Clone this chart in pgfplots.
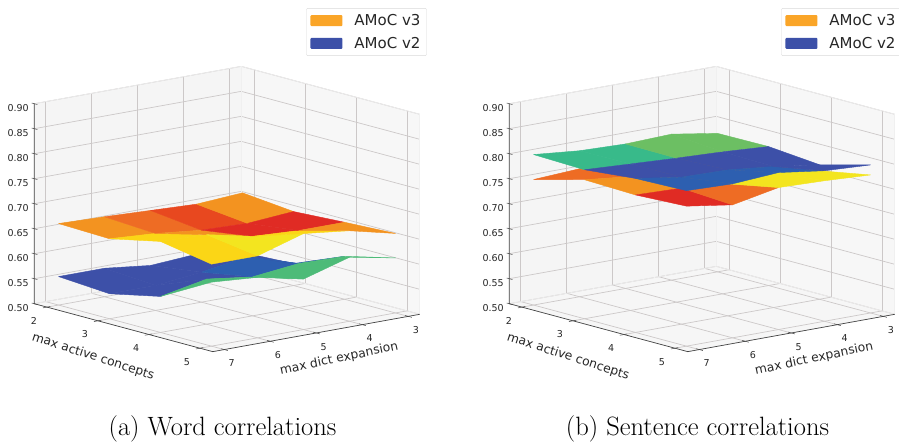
\documentclass[border=0pt]{standalone}
\usepackage{fontspec}
\setsansfont{DejaVu Sans}
\usepackage{pgfplots}
\pgfplotsset{compat=1.18}
\definecolor{gridc}{HTML}{CCC8C8}
\definecolor{axc}{HTML}{444444}
\pgfplotsset{
  amoc/.style={
    x={(51pt,-13.7pt)}, y={(46pt,8.3pt)}, z={(0pt,500pt)},
    y dir=reverse,
    xmin=1.75, xmax=5.25, ymin=2.75, ymax=7.25, zmin=0.5, zmax=0.9,
    xtick={2,3,4,5}, ytick={3,4,5,6,7},
    ztick={0.5,0.55,0.6,0.65,0.7,0.75,0.8,0.85,0.9},
    xtick pos=lower, ytick pos=lower, ztick pos=left,
    tick align=center,
    grid=major, grid style={gridc, line width=0.7pt},
    axis line style={black!6, line width=0.6pt},
    tick style={draw=none},
    major tick length=4pt,
    set layers, clip=false,
    anchor=center,
    tick label style={font=\sffamily\fontsize{9.5}{11}\selectfont, text=black!85},
    xticklabel style={xshift=-5pt, yshift=-6pt},
    yticklabel style={yshift=-6pt},
    zticklabel style={yshift=-4.5pt, /pgf/number format/fixed, /pgf/number format/fixed zerofill, /pgf/number format/precision=2},
    /pgf/number format/assume math mode=true,
    xlabel={max active concepts}, ylabel={max dict expansion},
    every axis x label/.style={at={(axis cs:3.5,7.25,0.5)}, anchor=center, rotate=-18, xshift=-20pt, yshift=-37pt, font=\sffamily\fontsize{12.3}{14}\selectfont, text=black!85},
    every axis y label/.style={at={(axis cs:5.25,5,0.5)}, anchor=center, rotate=12, xshift=17pt, yshift=-30pt, font=\sffamily\fontsize{12.3}{14}\selectfont, text=black!85},
    colormap={facets}{rgb255=(243,147,32) rgb255=(238,108,36) rgb255=(232,72,31) rgb255=(224,43,36) rgb255=(251,214,22) rgb255=(243,229,31) rgb255=(60,80,168) rgb255=(45,95,176) rgb255=(77,187,120) rgb255=(56,186,138) rgb255=(108,191,99)},
    point meta min=0, point meta max=10,
    unbounded coords=jump,
    legend style={at={(axis description cs:1.018,1.204)}, draw=black!15, rounded corners=1pt, font=\sffamily\fontsize{15}{18}\selectfont, text=black!85, row sep=6pt, column sep=10pt, inner xsep=4pt, inner ysep=4pt, anchor=north east, legend cell align=left},
  },
  pane/.style={on layer=axis background, draw=none, forget plot, no marks},
  frame/.style={on layer=axis lines, axc, line width=0.7pt, forget plot, no marks},
  facetplot/.style={patch, patch type=rectangle, shader=flat, forget plot, table/row sep=\\},
  legpatch/.style={legend image code/.code={\fill[##1,draw=none] (0pt,-5.5pt) rectangle (32pt,5.5pt);}},
}
\newcommand{\panes}{%
  \addplot3[pane, fill=gray!8] coordinates {(1.75,2.75,0.5) (1.75,7.25,0.5) (1.75,7.25,0.9) (1.75,2.75,0.9) (1.75,2.75,0.5)};
  \addplot3[pane, fill=gray!6] coordinates {(1.75,2.75,0.5) (5.25,2.75,0.5) (5.25,2.75,0.9) (1.75,2.75,0.9) (1.75,2.75,0.5)};
  \addplot3[pane, fill=gray!7] coordinates {(1.75,2.75,0.5) (5.25,2.75,0.5) (5.25,7.25,0.5) (1.75,7.25,0.5) (1.75,2.75,0.5)};
  \addplot3[frame] coordinates {(1.75,7.25,0.9) (1.75,7.25,0.5) (5.25,7.25,0.5) (5.25,2.75,0.5)};
  \addplot3[frame, line width=0.5pt] coordinates {
    (2,7.18,0.5) (2,7.34,0.5) (2,7.34,nan) (3,7.18,0.5) (3,7.34,0.5) (3,7.34,nan)
    (4,7.18,0.5) (4,7.34,0.5) (4,7.34,nan) (5,7.18,0.5) (5,7.34,0.5) (5,7.34,nan)
    (5.19,3,0.5) (5.32,3,0.5) (5.32,3,nan) (5.19,4,0.5) (5.32,4,0.5) (5.32,4,nan)
    (5.19,5,0.5) (5.32,5,0.5) (5.32,5,nan) (5.19,6,0.5) (5.32,6,0.5) (5.32,6,nan)
    (5.19,7,0.5) (5.32,7,0.5) (5.32,7,nan)
    (1.7,7.25,0.5) (1.81,7.25,0.5) (1.81,7.25,nan) (1.7,7.25,0.55) (1.81,7.25,0.55) (1.81,7.25,nan)
    (1.7,7.25,0.6) (1.81,7.25,0.6) (1.81,7.25,nan) (1.7,7.25,0.65) (1.81,7.25,0.65) (1.81,7.25,nan)
    (1.7,7.25,0.7) (1.81,7.25,0.7) (1.81,7.25,nan) (1.7,7.25,0.75) (1.81,7.25,0.75) (1.81,7.25,nan)
    (1.7,7.25,0.8) (1.81,7.25,0.8) (1.81,7.25,nan) (1.7,7.25,0.85) (1.81,7.25,0.85) (1.81,7.25,nan)
    (1.7,7.25,0.9) (1.81,7.25,0.9)
  };
}
\begin{document}
\begin{tikzpicture}
\begin{axis}[amoc, at={(227pt,235pt)}]
\addlegendimage{legpatch, fill={rgb,255:red,250;green,165;blue,40}}
\addlegendimage{legpatch, fill={rgb,255:red,60;green,80;blue,168}}
\legend{AMoC v3, AMoC v2}
\panes
\addplot3[facetplot, patch table with point meta={
3 4 9 8 6\\ 2 3 8 7 6\\ 1 2 7 6 6\\ 0 1 6 5 6\\
8 9 14 13 7\\ 7 8 13 12 7\\ 6 7 12 11 6\\ 5 6 11 10 6\\
13 14 19 18 8\\ 12 13 18 17 8\\ 11 12 17 16 8\\ 10 11 16 15 8\\
}] table {
x y z\\
2 7 0.557\\ 2 6 0.557\\ 2 5 0.546\\ 2 4 0.552\\ 2 3 0.539\\
3 7 0.550\\ 3 6 0.550\\ 3 5 0.560\\ 3 4 0.575\\ 3 3 0.544\\
4 7 0.572\\ 4 6 0.590\\ 4 5 0.578\\ 4 4 0.588\\ 4 3 0.586\\
5 7 0.628\\ 5 6 0.621\\ 5 5 0.601\\ 5 4 0.628\\ 5 3 0.610\\
};
\addplot3[facetplot, patch table with point meta={
3 4 9 8 0\\ 2 3 8 7 2\\ 1 2 7 6 1\\ 0 1 6 5 0\\
8 9 14 13 3\\ 7 8 13 12 3\\ 6 7 12 11 0\\ 5 6 11 10 4\\
13 14 19 18 0\\ 12 13 18 17 4\\ 11 12 17 16 5\\ 10 11 16 15 4\\
}] table {
x y z\\
2 7 0.663\\ 2 6 0.660\\ 2 5 0.656\\ 2 4 0.652\\ 2 3 0.658\\
3 7 0.660\\ 3 6 0.654\\ 3 5 0.644\\ 3 4 0.641\\ 3 3 0.648\\
4 7 0.682\\ 4 6 0.679\\ 4 5 0.659\\ 4 4 0.654\\ 4 3 0.654\\
5 7 0.664\\ 5 6 0.664\\ 5 5 0.692\\ 5 4 0.681\\ 5 3 0.659\\
};
\end{axis}
\begin{axis}[amoc, at={(702pt,235pt)}]
\addlegendimage{legpatch, fill={rgb,255:red,250;green,165;blue,40}}
\addlegendimage{legpatch, fill={rgb,255:red,60;green,80;blue,168}}
\legend{AMoC v3, AMoC v2}
\panes
\addplot3[facetplot, patch table with point meta={
3 4 9 8 0\\ 2 3 8 7 0\\ 1 2 7 6 0\\ 0 1 6 5 1\\
8 9 14 13 0\\ 7 8 13 12 0\\ 6 7 12 11 0\\ 5 6 11 10 0\\
13 14 19 18 5\\ 12 13 18 17 5\\ 11 12 17 16 1\\ 10 11 16 15 3\\
}] table {
x y z\\
2 7 0.751\\ 2 6 0.756\\ 2 5 0.745\\ 2 4 0.740\\ 2 3 0.735\\
3 7 0.778\\ 3 6 0.768\\ 3 5 0.760\\ 3 4 0.750\\ 3 3 0.740\\
4 7 0.775\\ 4 6 0.772\\ 4 5 0.764\\ 4 4 0.770\\ 4 3 0.757\\
5 7 0.780\\ 5 6 0.766\\ 5 5 0.784\\ 5 4 0.781\\ 5 3 0.776\\
};
\addplot3[facetplot, patch table with point meta={
3 4 9 8 10\\ 2 3 8 7 10\\ 1 2 7 6 9\\ 0 1 6 5 9\\
8 9 14 13 6\\ 7 8 13 12 6\\ 6 7 12 11 6\\ 5 6 11 10 6\\
13 14 19 18 6\\ 12 13 18 17 7\\ 11 12 17 16 7\\ 10 11 16 15 7\\
}] table {
x y z\\
2 7 0.801\\ 2 6 0.792\\ 2 5 0.789\\ 2 4 0.792\\ 2 3 0.777\\
3 7 0.798\\ 3 6 0.793\\ 3 5 0.788\\ 3 4 0.784\\ 3 3 0.778\\
4 7 0.808\\ 4 6 0.794\\ 4 5 0.792\\ 4 4 0.782\\ 4 3 0.769\\
5 7 0.811\\ 5 6 0.808\\ 5 5 0.814\\ 5 4 0.801\\ 5 3 0.796\\
};
\end{axis}
\node[font=\fontsize{26.5}{30}\selectfont, anchor=center] at (222.5pt,15pt) {(a) Word correlations};
\node[font=\fontsize{26.5}{30}\selectfont, anchor=center] at (697.5pt,15pt) {(b) Sentence correlations};
\pgfresetboundingbox
\useasboundingbox (0,0) rectangle (899pt,444pt);
\end{tikzpicture}
\end{document}
